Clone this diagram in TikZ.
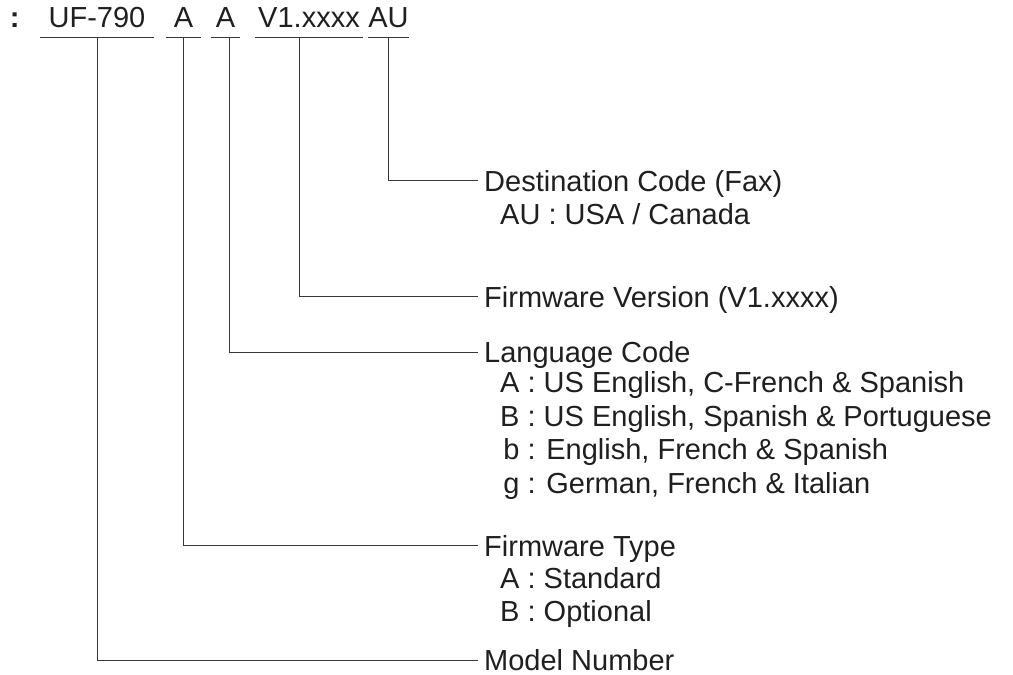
\documentclass[tikz,border=0pt]{standalone}
\usepackage{fontspec}
\setmainfont{Liberation Sans}
\usepackage{xcolor}
\usepackage{tikz}
\usetikzlibrary{positioning}

\begin{document}
\begin{tikzpicture}[
    x=1pt, y=-1pt,
    every node/.style={text=black!88, font=\fontsize{29}{34}\selectfont},
    codebox/.style={inner sep=0pt, text height=21pt, text depth=10.3pt,
                    anchor=base},
    title/.style={anchor=west, inner xsep=6pt, inner ysep=0pt,
                  text height=21pt, text depth=0pt},
    item/.style={inner sep=0pt, text height=21pt, text depth=0pt},
    lead/.style={draw=black!78, line width=1pt}
]
\useasboundingbox (0,0) rectangle (1013,675);

% Code string (top row)
\node[codebox, minimum width=6pt] (colon) at (14.7,27) {\textbf{:}};
\node[codebox, minimum width=114pt] (cmodel) at (97,27) {UF-790};
\node[codebox, minimum width=34pt] (ctype) at (183.5,27) {A};
\node[codebox, minimum width=29pt] (clang) at (225.5,27) {A};
\node[codebox, minimum width=108pt] (cver) at (309,27) {V1.xxxx};
\node[codebox, minimum width=41pt] (cdest) at (388.5,27) {AU};

% Underlines
\foreach \c in {cmodel, ctype, clang, cver, cdest}
    \draw[lead] (\c.south west) -- (\c.south east);

% Field titles (right column)
\node[title] (dest) at (478,180.5) {Destination Code (Fax)};
\node[title] (fwver) at (478,296.5) {Firmware Version (V1.xxxx)};
\node[title] (lang) at (478,352) {Language Code};
\node[title] (fwtype) at (478,545.5) {Firmware Type};
\node[title] (model) at (478,660) {Model Number};

% Values under the titles
\node[item, below right=12pt and 22pt of dest.south west] (destA)
    {AU : USA / Canada};

\node[item, below right=9pt and 22pt of lang.south west] (langA)
    {A : US English, C-French \& Spanish};
\node[item, below right=12pt and 0pt of langA.south west] (langB)
    {B : US English, Spanish \& Portuguese};
\node[item, below right=12pt and 0pt of langB.south west] (langb)
    {\hphantom{A}\llap{b} : English, French \& Spanish};
\node[item, below right=12pt and 0pt of langb.south west] (langg)
    {\hphantom{A}\llap{g} : German, French \& Italian};

\node[item, below right=11pt and 22pt of fwtype.south west] (typeA)
    {A : Standard};
\node[item, below right=12pt and 0pt of typeA.south west] (typeB)
    {B : Optional};

% Leaders from the code string to the titles
\draw[lead] (cdest.south) |- (dest);
\draw[lead] ([xshift=-10pt]cver.south) |- (fwver);
\draw[lead] ([xshift=3.5pt]clang.south) |- (lang);
\draw[lead] (ctype.south) |- (fwtype);
\draw[lead] (cmodel.south) |- (model);

\end{tikzpicture}
\end{document}
